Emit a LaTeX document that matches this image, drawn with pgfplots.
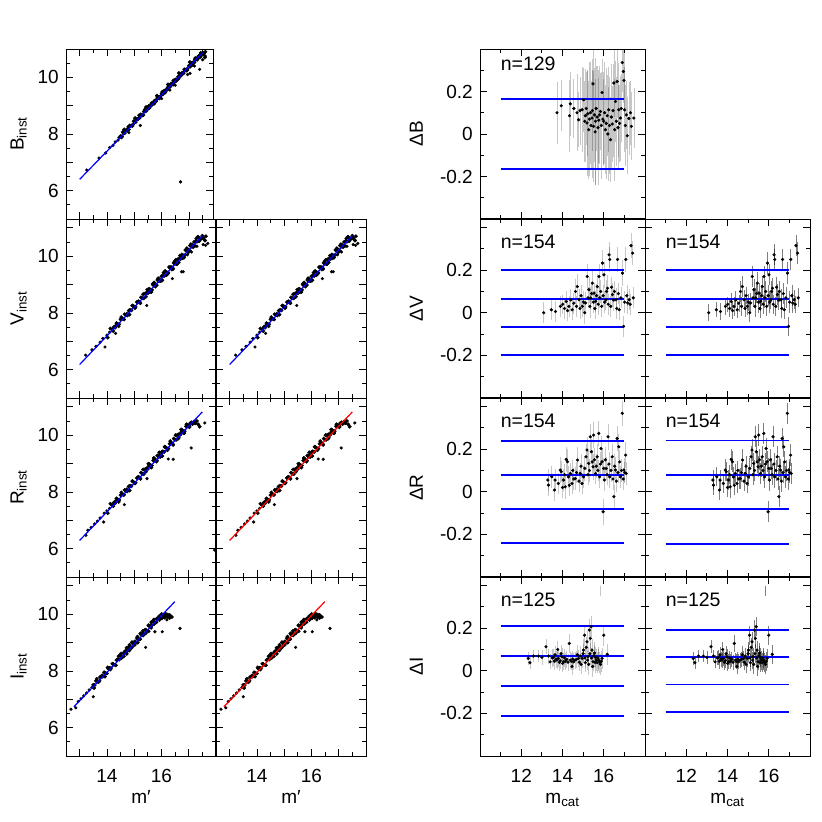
\documentclass[border=0pt]{standalone}
\usepackage{pgfplots}
\usepackage{pgfplotstable}
\pgfplotsset{compat=1.18}
\usepackage{fontspec}
\setmainfont{Liberation Sans}
\newcommand{\lblfont}{\fontsize{19bp}{22bp}\selectfont}
\newcommand{\nfont}{\fontsize{19.5bp}{22bp}\selectfont}

% ---- B: core band and scattered points ----
\pgfplotstableread{
x y
14.45 7.87
14.50 7.93
14.55 7.92
14.60 8.04
14.65 8.03
14.70 8.13
14.75 8.17
14.80 8.16
14.85 8.28
14.90 8.30
14.95 8.33
15.00 8.44
15.05 8.42
15.10 8.53
15.15 8.55
15.20 8.57
15.25 8.68
15.30 8.66
15.35 8.79
15.40 8.80
15.45 8.82
15.50 8.93
15.55 8.92
15.60 9.03
15.65 9.06
15.70 9.07
15.75 9.18
15.80 9.16
15.85 9.29
15.90 9.30
15.95 9.32
16.00 9.43
16.05 9.41
16.10 9.53
16.15 9.55
16.20 9.56
16.25 9.68
16.30 9.66
16.35 9.78
16.40 9.80
16.45 9.81
16.50 9.92
16.55 9.90
16.60 10.02
16.65 10.04
16.70 10.05
16.75 10.16
16.80 10.14
16.85 10.27
16.90 10.28
16.95 10.30
17.00 10.41
17.05 10.38
17.10 10.50
17.15 10.53
17.20 10.53
17.25 10.65
17.30 10.62
17.35 10.75
17.40 10.77
17.45 10.78
17.50 10.87
17.55 10.84
17.60 10.90
15.52 8.98
15.62 9.00
15.72 9.15
15.82 9.22
15.92 9.26
16.02 9.40
16.12 9.47
16.22 9.63
16.32 9.70
16.42 9.74
16.52 9.92
16.62 9.95
16.72 10.12
16.82 10.20
16.92 10.24
17.02 10.40
17.12 10.44
17.22 10.62
17.32 10.70
17.42 10.72
17.52 10.80
17.58 10.70
14.58 8.07
14.78 8.25
14.98 8.45
15.18 8.66
15.38 8.86
14.53 7.88
14.63 8.16
14.73 8.12
14.83 8.30
14.93 8.28
15.03 8.56
15.13 8.52
15.23 8.69
15.33 8.67
15.43 8.95
15.53 8.91
15.63 9.09
15.73 9.07
15.83 9.35
15.93 9.31
16.03 9.49
16.13 9.47
16.23 9.75
16.33 9.71
16.43 9.89
16.53 9.87
16.63 10.15
16.73 10.10
16.83 10.28
16.93 10.26
17.03 10.54
17.13 10.50
17.23 10.68
17.33 10.66
17.43 10.86
17.53 10.85
}\tabBc
\pgfplotstableread{
x y
13.26 6.73
13.71 7.15
13.95 7.33
14.10 7.52
14.22 7.60
14.30 7.72
14.40 7.78
15.22 8.30
16.00 9.25
16.50 9.72
16.95 10.10
17.04 10.14
17.20 10.40
17.39 10.28
17.50 10.62
17.60 10.75
16.69 6.31
16.30 9.55
14.80 8.05
}\tabBo

% ---- V ----
\pgfplotstableread{
x y
14.25 7.50
14.30 7.48
14.35 7.64
14.40 7.61
14.45 7.60
14.50 7.77
14.55 7.80
14.60 7.78
14.65 7.95
14.70 7.92
14.75 7.91
14.80 8.08
14.85 8.11
14.90 8.09
14.95 8.25
15.00 8.22
15.05 8.21
15.10 8.38
15.15 8.41
15.20 8.39
15.25 8.55
15.30 8.52
15.35 8.51
15.40 8.68
15.45 8.71
15.50 8.69
15.55 8.85
15.60 8.82
15.65 8.81
15.70 8.98
15.75 9.02
15.80 9.00
15.85 9.16
15.90 9.13
15.95 9.12
16.00 9.29
16.05 9.32
16.10 9.30
16.15 9.46
16.20 9.43
16.25 9.42
16.30 9.59
16.35 9.62
16.40 9.60
16.45 9.76
16.50 9.73
16.55 9.72
16.60 9.89
16.65 9.92
16.70 9.90
16.75 10.06
16.80 10.03
16.85 10.03
16.90 10.20
16.95 10.23
17.00 10.21
17.05 10.37
17.10 10.34
17.15 10.33
17.20 10.50
17.25 10.53
17.30 10.51
17.35 10.67
17.40 10.64
17.45 10.63
17.50 10.72
15.48 8.82
15.58 8.73
15.68 9.02
15.78 8.93
15.88 9.22
15.98 9.13
16.08 9.42
16.18 9.33
16.28 9.62
16.38 9.53
16.48 9.82
16.58 9.73
16.68 10.02
16.78 9.93
16.88 10.22
16.98 10.13
17.08 10.42
17.18 10.33
17.28 10.62
17.38 10.53
17.48 10.65
17.55 10.60
17.60 10.55
14.03 7.13
14.13 7.45
14.23 7.36
14.33 7.56
14.43 7.53
14.53 7.85
14.63 7.77
14.73 7.97
14.83 7.94
14.93 8.26
15.03 8.17
15.13 8.37
15.23 8.34
15.33 8.66
15.43 8.57
15.53 8.77
15.63 8.74
15.73 9.07
15.83 8.98
15.93 9.18
16.03 9.15
16.13 9.47
16.23 9.38
16.33 9.58
16.43 9.55
16.53 9.87
16.63 9.78
16.73 9.98
16.83 9.95
16.93 10.28
17.03 10.19
17.13 10.39
17.23 10.36
17.33 10.68
17.43 10.59
17.53 10.65
17.63 10.70
}\tabVc
\pgfplotstableread{
x y
13.22 6.51
13.45 6.70
13.60 6.82
13.75 6.97
13.85 7.10
13.93 6.80
14.00 7.22
14.10 7.32
14.20 7.43
14.32 7.28
17.53 10.41
17.70 10.45
17.62 10.38
16.74 9.45
16.80 9.45
16.40 9.21
15.46 8.26
17.30 10.35
17.10 10.15
16.95 10.05
}\tabVo

% ---- R ----
\pgfplotstableread{
x y
14.25 7.62
14.30 7.60
14.35 7.77
14.40 7.73
14.45 7.72
14.50 7.89
14.55 7.92
14.60 7.90
14.65 8.07
14.70 8.03
14.75 8.02
14.80 8.19
14.85 8.22
14.90 8.20
14.95 8.37
15.00 8.33
15.05 8.32
15.10 8.49
15.15 8.53
15.20 8.51
15.25 8.68
15.30 8.64
15.35 8.63
15.40 8.80
15.45 8.83
15.50 8.81
15.55 8.98
15.60 8.94
15.65 8.93
15.70 9.10
15.75 9.13
15.80 9.11
15.85 9.28
15.90 9.24
15.95 9.23
16.00 9.40
16.05 9.43
16.10 9.41
16.15 9.58
16.20 9.54
16.25 9.53
16.30 9.70
16.35 9.73
16.40 9.71
16.45 9.88
16.50 9.84
16.55 9.84
16.60 10.01
16.65 10.04
16.70 10.02
16.75 10.19
16.80 10.15
16.85 10.14
16.90 10.31
16.95 10.34
17.00 10.32
17.05 10.42
17.10 10.45
17.15 10.40
17.20 10.48
17.25 10.42
17.30 10.50
17.35 10.38
17.40 10.30
15.52 8.99
15.62 8.87
15.72 9.19
15.82 9.07
15.92 9.39
16.02 9.27
16.12 9.59
16.22 9.47
16.32 9.79
16.42 9.67
16.52 10.00
16.62 9.88
16.72 10.20
16.82 10.08
16.92 10.38
17.02 10.28
14.03 7.25
14.13 7.58
14.23 7.50
14.33 7.69
14.43 7.65
14.53 7.98
14.63 7.90
14.73 8.09
14.83 8.05
14.93 8.38
15.03 8.30
15.13 8.50
15.23 8.46
15.33 8.79
15.43 8.71
15.53 8.90
15.63 8.86
15.73 9.19
15.83 9.11
15.93 9.30
16.03 9.26
16.13 9.59
16.23 9.51
16.33 9.70
16.43 9.66
16.53 10.00
16.63 9.92
16.73 10.11
16.83 10.07
16.93 10.37
17.03 10.32
17.13 10.40
17.23 10.43
}\tabRc
\pgfplotstableread{
x y
13.23 6.47
13.30 6.65
13.42 6.75
13.55 6.87
13.65 6.97
13.75 7.08
13.88 6.94
13.90 7.25
14.00 7.33
14.10 7.42
14.20 7.54
17.59 10.43
17.09 9.55
16.25 9.16
16.43 9.15
15.47 8.47
14.64 7.55
}\tabRo

% ---- I ----
\pgfplotstableread{
x y
13.50 7.51
13.55 7.50
13.60 7.65
13.65 7.62
13.70 7.61
13.75 7.78
13.80 7.81
13.85 7.80
13.90 7.95
13.95 7.92
14.00 7.91
14.05 8.08
14.10 8.11
14.15 8.10
14.20 8.25
14.25 8.22
14.30 8.21
14.35 8.38
14.40 8.41
14.45 8.40
14.50 8.55
14.55 8.52
14.60 8.51
14.65 8.68
14.70 8.71
14.75 8.70
14.80 8.85
14.85 8.82
14.90 8.81
14.95 8.98
15.00 9.01
15.05 9.00
15.10 9.15
15.15 9.12
15.20 9.11
15.25 9.28
15.30 9.31
15.35 9.30
15.40 9.45
15.45 9.42
15.50 9.41
15.55 9.58
15.60 9.61
15.65 9.60
15.70 9.75
15.75 9.72
15.80 9.71
15.85 9.85
15.90 9.88
15.95 9.86
16.00 10.00
16.05 9.95
16.10 9.93
16.15 10.02
16.20 9.98
16.25 9.95
16.30 9.97
14.52 8.61
14.62 8.52
14.72 8.81
14.82 8.72
14.92 9.01
15.02 8.92
15.12 9.21
15.22 9.12
15.32 9.41
15.42 9.32
15.52 9.61
15.62 9.52
15.72 9.81
15.82 9.72
15.92 9.93
16.02 9.85
16.12 9.88
16.22 9.90
13.53 7.40
13.63 7.72
13.73 7.65
13.83 7.84
13.93 7.80
14.03 8.12
14.13 8.05
14.23 8.24
14.33 8.20
14.43 8.52
14.53 8.45
14.63 8.64
14.73 8.60
14.83 8.92
14.93 8.85
15.03 9.04
15.13 9.00
15.23 9.32
15.33 9.25
15.43 9.44
15.53 9.40
15.63 9.72
15.73 9.65
15.83 9.84
15.93 9.80
16.03 9.98
16.13 9.96
16.23 9.98
16.33 9.93
16.38 9.90
}\tabIc
\pgfplotstableread{
x y
12.68 6.65
12.86 6.70
12.95 6.92
13.05 7.02
13.15 7.12
13.25 7.22
13.35 7.33
13.50 7.09
13.45 7.42
16.68 9.50
16.03 9.38
15.76 9.38
15.42 8.83
16.20 9.80
16.30 9.85
}\tabIo

\pgfplotstableread{
x y e
13.73 0.100 0.145
13.94 0.133 0.12
14.38 0.142 0.15
14.34 0.086 0.17
14.55 0.120 0.14
14.70 0.100 0.18
14.78 0.067 0.13
14.85 0.110 0.16
14.95 0.114 0.20
15.02 0.161 0.15
15.08 0.060 0.19
15.11 0.086 0.22
15.15 0.120 0.17
15.19 0.052 0.25
15.22 0.095 0.20
15.27 0.020 0.23
15.30 0.070 0.27
15.35 0.100 0.24
15.38 0.040 0.21
15.43 0.075 0.28
15.45 0.110 0.19
15.48 0.236 0.20
15.51 0.036 0.26
15.55 0.090 0.22
15.58 0.010 0.25
15.60 0.060 0.30
15.63 0.120 0.20
15.68 0.080 0.24
15.72 0.030 0.27
15.76 0.065 0.20
15.80 0.090 0.23
15.84 0.106 0.18
15.88 0.040 0.25
15.92 0.195 0.16
15.96 0.070 0.22
16.00 0.060 0.20
16.04 0.100 0.24
16.08 0.020 0.21
16.12 0.050 0.26
16.17 0.086 0.19
16.20 0.000 0.22
16.24 0.114 0.20
16.28 0.040 0.23
16.33 -0.027 0.20
16.37 0.080 0.25
16.41 0.047 0.18
16.45 0.110 0.22
16.49 0.240 0.16
16.53 0.020 0.24
16.57 0.153 0.19
16.61 0.060 0.21
16.65 0.247 0.17
16.69 0.030 0.20
16.73 0.114 0.22
16.77 0.050 0.18
16.81 0.075 0.20
16.85 0.120 0.16
16.90 0.336 0.14
16.95 0.294 0.15
16.98 0.252 0.17
17.01 0.114 0.20
17.05 0.040 0.19
17.10 0.090 0.16
17.14 -0.008 0.18
17.22 0.073 0.17
17.30 0.100 0.15
17.34 0.036 0.16
17.46 0.075 0.14
}\tabdB

\pgfplotstableread{
x y e1 e2
13.09 0.000 0.05 0.04
13.46 0.014 0.05 0.035
13.66 0.006 0.05 0.04
13.90 0.030 0.05 0.04
14.01 0.040 0.045 0.035
14.10 0.020 0.05 0.04
14.18 0.053 0.05 0.04
14.25 0.010 0.05 0.04
14.31 0.030 0.05 0.045
14.40 0.060 0.05 0.04
14.47 0.014 0.05 0.04
14.55 0.045 0.05 0.04
14.63 0.100 0.06 0.05
14.68 0.030 0.05 0.045
14.72 0.123 0.06 0.05
14.80 0.061 0.05 0.045
14.85 0.020 0.05 0.04
14.90 0.080 0.05 0.04
14.96 0.030 0.05 0.04
15.02 0.050 0.05 0.04
15.08 0.000 0.055 0.045
15.12 0.046 0.05 0.045
15.20 0.170 0.06 0.05
15.24 0.070 0.05 0.045
15.28 0.108 0.06 0.05
15.33 0.030 0.055 0.05
15.37 0.069 0.05 0.045
15.41 0.090 0.05 0.045
15.45 0.139 0.06 0.05
15.50 0.050 0.05 0.05
15.53 0.092 0.05 0.05
15.57 0.020 0.05 0.045
15.61 0.054 0.05 0.045
15.65 0.080 0.055 0.05
15.69 0.123 0.06 0.05
15.73 0.040 0.05 0.045
15.77 0.170 0.06 0.05
15.81 0.070 0.05 0.05
15.85 0.100 0.055 0.05
15.90 0.030 0.05 0.045
15.94 0.233 0.06 0.05
15.97 0.080 0.05 0.05
16.01 0.178 0.06 0.05
16.05 0.050 0.05 0.05
16.10 0.061 0.05 0.045
16.14 0.100 0.055 0.05
16.18 0.115 0.06 0.05
16.22 0.040 0.05 0.045
16.26 0.272 0.06 0.05
16.29 0.250 0.06 0.05
16.34 0.030 0.05 0.045
16.38 0.120 0.05 0.05
16.42 0.085 0.055 0.05
16.47 0.060 0.05 0.045
16.52 0.100 0.05 0.05
16.59 0.061 0.055 0.05
16.63 0.020 0.05 0.045
16.67 0.250 0.06 0.05
16.71 0.090 0.05 0.05
16.75 0.014 0.05 0.045
16.83 0.070 0.05 0.05
16.91 0.186 0.06 0.05
16.96 -0.064 0.05 0.045
17.01 0.050 0.05 0.05
17.07 0.250 0.06 0.05
17.12 0.080 0.05 0.05
17.16 0.046 0.05 0.045
17.23 0.061 0.05 0.045
17.28 0.040 0.05 0.04
17.32 0.315 0.06 0.05
17.40 0.280 0.055 0.05
17.43 0.070 0.05 0.045
}\tabdV

\pgfplotstableread{
x y e1 e2
13.29 0.055 0.05 0.045
13.32 0.031 0.05 0.045
13.48 0.070 0.05 0.045
13.61 0.008 0.05 0.045
13.64 0.055 0.05 0.045
13.80 0.039 0.05 0.045
13.89 0.102 0.06 0.05
13.94 0.094 0.05 0.045
14.00 0.020 0.05 0.045
14.05 0.055 0.05 0.045
14.10 0.080 0.05 0.045
14.13 0.023 0.055 0.05
14.18 0.152 0.06 0.05
14.24 0.141 0.06 0.05
14.29 0.070 0.05 0.045
14.33 0.030 0.05 0.045
14.38 0.086 0.05 0.045
14.46 0.039 0.05 0.045
14.50 0.100 0.05 0.045
14.55 0.060 0.05 0.045
14.62 0.062 0.055 0.05
14.68 0.090 0.05 0.045
14.73 0.149 0.06 0.05
14.80 0.050 0.05 0.045
14.86 0.086 0.05 0.045
14.90 0.120 0.055 0.05
14.95 0.039 0.05 0.045
15.02 0.070 0.05 0.045
15.08 0.110 0.06 0.05
15.14 0.164 0.06 0.05
15.19 0.196 0.06 0.05
15.23 0.080 0.05 0.05
15.27 0.133 0.06 0.05
15.31 0.100 0.055 0.05
15.35 0.258 0.06 0.05
15.40 0.188 0.06 0.05
15.44 0.140 0.055 0.05
15.48 0.117 0.06 0.05
15.51 0.266 0.06 0.05
15.55 0.150 0.055 0.05
15.60 0.086 0.05 0.05
15.64 0.120 0.055 0.05
15.68 0.164 0.06 0.05
15.72 0.100 0.05 0.05
15.76 0.274 0.06 0.05
15.80 0.070 0.05 0.05
15.84 0.130 0.055 0.05
15.87 0.203 0.06 0.05
15.92 0.141 0.06 0.05
15.97 -0.094 0.06 0.05
16.00 0.110 0.05 0.05
16.03 0.055 0.05 0.05
16.08 0.150 0.06 0.05
16.12 0.109 0.055 0.05
16.16 0.080 0.05 0.05
16.21 0.258 0.06 0.05
16.25 0.130 0.055 0.05
16.29 0.070 0.05 0.05
16.35 0.100 0.055 0.05
16.41 0.164 0.06 0.05
16.45 0.060 0.05 0.05
16.49 -0.023 0.055 0.05
16.53 0.120 0.055 0.05
16.57 0.102 0.06 0.05
16.61 0.050 0.05 0.05
16.65 0.250 0.06 0.05
16.69 0.090 0.05 0.05
16.73 0.211 0.06 0.05
16.77 0.140 0.055 0.05
16.81 0.070 0.05 0.05
16.86 0.100 0.055 0.05
16.90 0.368 0.06 0.05
16.94 0.060 0.05 0.05
16.98 0.102 0.055 0.05
17.02 0.090 0.05 0.05
17.06 0.172 0.06 0.05
17.09 0.086 0.055 0.05
}\tabdR

\pgfplotstableread{
x y e1 e2
12.34 0.058 0.03 0.03
12.42 0.038 0.03 0.03
12.59 0.069 0.03 0.03
12.83 0.069 0.03 0.03
13.00 0.063 0.035 0.03
13.20 0.113 0.035 0.03
13.32 0.069 0.035 0.03
13.40 0.042 0.035 0.03
13.50 0.060 0.04 0.035
13.56 0.063 0.04 0.035
13.60 0.045 0.04 0.035
13.64 0.075 0.04 0.035
13.68 0.055 0.04 0.035
13.73 0.050 0.04 0.035
13.77 0.100 0.04 0.035
13.80 0.058 0.04 0.035
13.85 0.040 0.04 0.035
13.89 0.047 0.04 0.035
13.93 0.080 0.04 0.035
13.97 0.066 0.04 0.035
14.01 0.035 0.04 0.035
14.05 0.042 0.04 0.035
14.10 0.060 0.04 0.035
14.15 0.045 0.04 0.035
14.21 0.053 0.04 0.035
14.27 0.040 0.04 0.035
14.33 0.128 0.045 0.04
14.38 0.050 0.04 0.035
14.42 0.045 0.04 0.035
14.46 0.020 0.04 0.035
14.50 0.055 0.04 0.035
14.54 0.042 0.04 0.035
14.60 0.050 0.04 0.035
14.67 0.053 0.04 0.035
14.72 0.075 0.045 0.04
14.78 0.058 0.04 0.035
14.82 0.040 0.04 0.035
14.86 0.069 0.045 0.04
14.90 0.030 0.045 0.04
14.95 0.058 0.045 0.04
15.00 0.080 0.045 0.04
15.02 0.097 0.05 0.04
15.07 0.167 0.05 0.045
15.09 0.060 0.045 0.04
15.11 0.038 0.045 0.04
15.15 0.110 0.05 0.045
15.19 0.136 0.05 0.045
15.22 0.050 0.045 0.04
15.24 0.066 0.045 0.04
15.27 0.030 0.05 0.045
15.30 0.191 0.05 0.045
15.33 0.080 0.05 0.045
15.35 0.152 0.05 0.045
15.39 0.207 0.05 0.045
15.41 0.060 0.045 0.04
15.43 0.097 0.05 0.045
15.46 0.020 0.05 0.045
15.48 0.042 0.045 0.04
15.52 0.070 0.05 0.045
15.55 0.083 0.05 0.045
15.58 0.040 0.05 0.045
15.60 0.063 0.05 0.045
15.64 0.050 0.05 0.045
15.68 0.038 0.05 0.045
15.72 0.060 0.05 0.045
15.76 0.050 0.05 0.045
15.80 0.040 0.05 0.045
15.84 0.030 0.05 0.045
15.88 0.045 0.05 0.045
15.92 0.058 0.05 0.045
16.00 0.167 0.05 0.045
16.17 0.077 0.05 0.045
}\tabdI

\tikzset{nlab/.style={anchor=base west, inner sep=0pt, font=\nfont}}

\pgfplotsset{
  myaxis/.style={scale only axis, anchor=north west, tick align=inside,
    axis line style={line width=1bp},
    tick style={black, line width=0.8bp},
    major tick length=7bp, minor tick length=4bp,
    ticklabel style={font=\lblfont, inner sep=0pt},
    xticklabel shift=13bp, yticklabel shift=7bp,
    label style={font=\lblfont, inner sep=0pt}},
  L/.style={myaxis, clip marker paths=true, width=150bp, height=179bp, xmin=12.5, xmax=18, ymin=5, ymax=11.31,
    xtick={13,14,15,16,17}, minor xtick={13.5,14.5,15.5,16.5,17.5},
    ytick={5,6,7,8,9,10,11}, minor ytick={5.5,6.5,7.5,8.5,9.5,10.5},
    xticklabels={}, yticklabels={}},
  Lleft/.style={yticklabels={,6,,8,,10,},
    ylabel style={at={(axis description cs:-0.26,0.5)}, anchor=south}},
  Lbot/.style={xticklabels={,14,,16,}, xlabel={m′},
    xlabel style={at={(axis description cs:0.5,-0.2626)}, anchor=base}},
  R/.style={myaxis, width=165bp, height=179bp, xmin=10, xmax=18, ymin=-0.4, ymax=0.44,
    xtick={12,14,16}, minor xtick={11,13,15,17},
    ytick={-0.4,-0.2,0,0.2,0.4}, minor ytick={-0.3,-0.1,0.1,0.3},
    xticklabels={}, yticklabels={}},
  Rleft/.style={yticklabels={,-0.2,0,0.2,},
    ylabel style={at={(axis description cs:-0.345,0.5)}, anchor=south}},
  Rbot/.style={xticklabels={12,14,16}, xlabel={m\textsubscript{cat}},
    xlabel style={at={(axis description cs:0.5,-0.2626)}, anchor=base}},
  core/.style={only marks, mark=*, mark size=1.75bp, black, mark options={draw=black, fill=black}},
  pts/.style={only marks, mark=*, mark size=1.4bp, black, mark options={draw=black, fill=black}},
  rpts/.style={only marks, mark=*, mark size=1.4bp, black, mark options={draw=black, fill=black}},
  ebA/.style={error bars/y dir=both, error bars/y explicit, error bars/error mark=none,
    error bars/error bar style={color=black, opacity=0.22, line width=0.7bp}},
  ebB/.style={error bars/y dir=both, error bars/y explicit, error bars/error mark=none,
    error bars/error bar style={color=black, opacity=0.5, line width=0.7bp}},
  hl/.style={blue, line width=1.8bp},
  fitb/.style={blue, line width=1.2bp},
  fitr/.style={red, line width=1.2bp},
}

\begin{document}
\begin{tikzpicture}
\path[use as bounding box] (0,0) rectangle (822bp,-822bp);

% ---------- Left group ----------
\begin{axis}[L, Lleft, at={(66bp,-49bp)}, width=147bp, height=170bp, xmax=17.88, ymax=11,
  ylabel={B\textsubscript{inst}}, ylabel style={at={(axis description cs:-0.265,0.5)}}]
\addplot[core] table[x=x,y=y] {\tabBc};
\addplot[pts] table[x=x,y=y] {\tabBo};
\addplot[fitb] coordinates {(13,6.40) (17.5,10.87)};
\end{axis}
\begin{axis}[L, Lleft, at={(66bp,-219bp)}, ylabel={V\textsubscript{inst}}]
\addplot[core] table[x=x,y=y] {\tabVc};
\addplot[pts] table[x=x,y=y] {\tabVo};
\addplot[fitb] coordinates {(13,6.18) (17.5,10.72)};
\end{axis}
\begin{axis}[L, at={(216bp,-219bp)}]
\addplot[core] table[x=x,y=y] {\tabVc};
\addplot[pts] table[x=x,y=y] {\tabVo};
\addplot[fitb] coordinates {(13,6.18) (17.5,10.72)};
\end{axis}
\begin{axis}[L, Lleft, at={(66bp,-398bp)}, ylabel={R\textsubscript{inst}}]
\addplot[core] table[x=x,y=y] {\tabRc};
\addplot[pts] table[x=x,y=y] {\tabRo};
\addplot[pts] coordinates {(17.95,5.95)};
\addplot[fitb] coordinates {(13,6.29) (17.5,10.82)};
\end{axis}
\begin{axis}[L, at={(216bp,-398bp)}]
\addplot[core] table[x=x,y=y] {\tabRc};
\addplot[pts] table[x=x,y=y] {\tabRo};
\addplot[fitr] coordinates {(13,6.29) (17.5,10.82)};
\end{axis}
\begin{axis}[L, Lleft, Lbot, at={(66bp,-577bp)}, ylabel={I\textsubscript{inst}}]
\addplot[core] table[x=x,y=y] {\tabIc};
\addplot[pts] table[x=x,y=y] {\tabIo};
\addplot[fitb] coordinates {(12.79,6.74) (16.49,10.44)};
\end{axis}
\begin{axis}[L, Lbot, at={(216bp,-577bp)}]
\addplot[core] table[x=x,y=y] {\tabIc};
\addplot[pts] table[x=x,y=y] {\tabIo};
\addplot[fitr] coordinates {(12.79,6.74) (16.49,10.44)};
\end{axis}

% ---------- Right group ----------
\begin{axis}[R, Rleft, at={(480bp,-49bp)}, height=170bp, ymax=0.4, ylabel={ΔB}]
\addplot[rpts, ebA] table[x=x,y=y,y error=e] {\tabdB};
\addplot[hl] coordinates {(11,0.163) (17,0.163)};
\addplot[hl] coordinates {(11,-0.163) (17,-0.163)};
\node[nlab] at (axis cs:11,0.3) {n=129};
\end{axis}
\begin{axis}[R, Rleft, at={(480bp,-219bp)}, ylabel={ΔV}]
\addplot[rpts, ebA] table[x=x,y=y,y error=e1] {\tabdV};
\addplot[hl] coordinates {(11,0.2) (17,0.2)};
\addplot[hl] coordinates {(11,0.066) (17,0.066)};
\addplot[hl] coordinates {(11,-0.066) (17,-0.066)};
\addplot[hl] coordinates {(11,-0.2) (17,-0.2)};
\node[nlab] at (axis cs:11,0.3) {n=154};
\end{axis}
\begin{axis}[R, at={(645bp,-219bp)}]
\addplot[rpts, ebB] table[x=x,y=y,y error=e2] {\tabdV};
\addplot[hl] coordinates {(11,0.2) (17,0.2)};
\addplot[hl] coordinates {(11,0.066) (17,0.066)};
\addplot[hl] coordinates {(11,-0.066) (17,-0.066)};
\addplot[hl] coordinates {(11,-0.2) (17,-0.2)};
\node[nlab] at (axis cs:11,0.3) {n=154};
\end{axis}
\begin{axis}[R, Rleft, at={(480bp,-398bp)}, ylabel={ΔR}]
\addplot[rpts, ebA] table[x=x,y=y,y error=e1] {\tabdR};
\addplot[hl] coordinates {(11,0.239) (17,0.239)};
\addplot[hl] coordinates {(11,0.079) (17,0.079)};
\addplot[hl] coordinates {(11,-0.08) (17,-0.08)};
\addplot[hl] coordinates {(11,-0.241) (17,-0.241)};
\node[nlab] at (axis cs:11,0.3) {n=154};
\end{axis}
\begin{axis}[R, at={(645bp,-398bp)}]
\addplot[rpts, ebB] table[x=x,y=y,y error=e2] {\tabdR};
\addplot[hl] coordinates {(11,0.241) (17,0.241)};
\addplot[hl] coordinates {(11,0.08) (17,0.08)};
\addplot[hl] coordinates {(11,-0.081) (17,-0.081)};
\addplot[hl] coordinates {(11,-0.245) (17,-0.245)};
\node[nlab] at (axis cs:11,0.3) {n=154};
\end{axis}
\begin{axis}[R, Rleft, Rbot, at={(480bp,-577bp)}, ylabel={ΔI}]
\addplot[rpts, ebA] table[x=x,y=y,y error=e1] {\tabdI};
\addplot[black, opacity=0.22, line width=0.7bp] coordinates {(15.85,0.35) (15.85,0.40)};
\addplot[hl] coordinates {(11,0.211) (17,0.211)};
\addplot[hl] coordinates {(11,0.07) (17,0.07)};
\addplot[hl] coordinates {(11,-0.071) (17,-0.071)};
\addplot[hl] coordinates {(11,-0.212) (17,-0.212)};
\node[nlab] at (axis cs:11,0.3) {n=125};
\end{axis}
\begin{axis}[R, Rbot, at={(645bp,-577bp)}]
\addplot[rpts, ebB] table[x=x,y=y,y error=e2] {\tabdI};
\addplot[black, opacity=0.5, line width=0.7bp] coordinates {(15.85,0.35) (15.85,0.40)};
\addplot[hl] coordinates {(11,0.191) (17,0.191)};
\addplot[hl] coordinates {(11,0.063) (17,0.063)};
\addplot[hl] coordinates {(11,-0.064) (17,-0.064)};
\addplot[hl] coordinates {(11,-0.193) (17,-0.193)};
\node[nlab] at (axis cs:11,0.3) {n=125};
\end{axis}
\end{tikzpicture}
\end{document}
